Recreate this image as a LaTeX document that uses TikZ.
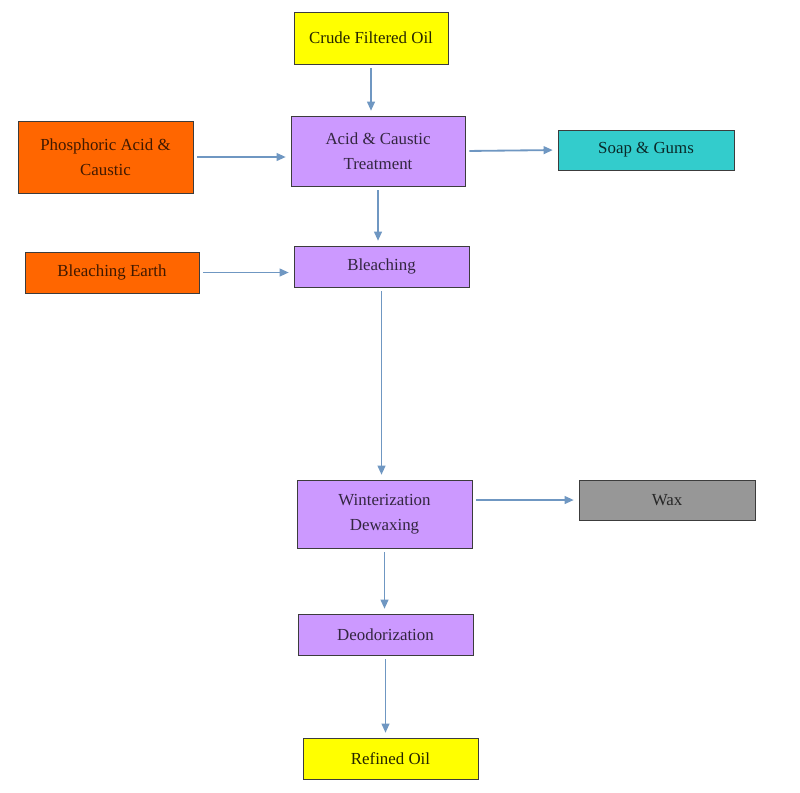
\documentclass[tikz,border=0pt]{standalone}
\usepackage{fontspec}
\setmainfont{Liberation Serif}
\usetikzlibrary{arrows.meta}

\definecolor{oilyellow}{HTML}{FFFF00}
\definecolor{stagepurple}{HTML}{CC99FF}
\definecolor{feedorange}{HTML}{FF6600}
\definecolor{soapteal}{HTML}{33CCCC}
\definecolor{waxgray}{HTML}{979797}
\definecolor{flowblue}{HTML}{6F97C2}
\definecolor{edgegray}{HTML}{3C3C3C}

\begin{document}
\begin{tikzpicture}[x=0.025cm, y=-0.025cm,
    box/.style={draw=edgegray, line width=0.6pt, inner sep=0pt, align=center,
        font=\fontsize{12}{17.5}\selectfont},
    oil/.style={box, fill=oilyellow, text=oilyellow!15!black},
    stage/.style={box, fill=stagepurple, text=stagepurple!25!black},
    feed/.style={box, fill=feedorange, text=feedorange!25!black},
    flow/.style={draw=flowblue, line width=1.3pt, shorten <=0.1cm, shorten >=0.12cm,
        -{Triangle[length=6.5pt, width=5.5pt]}}]
        \useasboundingbox (0,0) rectangle (800,792);

        % boxes
        \node[oil, minimum width=3.85cm, minimum height=1.3cm] (crude) at (371,38) {Crude Filtered Oil};
        \node[stage, minimum width=4.35cm, minimum height=1.75cm] (acid) at (378,151) {Acid \& Caustic\\Treatment};
        \node[feed, minimum width=4.375cm, minimum height=1.8cm] (phos) at (105.5,157) {Phosphoric Acid \&\\Caustic};
        \node[box, fill=soapteal, text=soapteal!20!black, minimum width=4.4cm, minimum height=1cm] (soap) at (646,150) {Soap \& Gums};
        \node[feed, minimum width=4.35cm, minimum height=1.025cm] (earth) at (112,272.5) {Bleaching Earth};
        \node[stage, minimum width=4.375cm, minimum height=1.025cm] (bleach) at (381.5,266.5) {Bleaching};
        \node[stage, minimum width=4.375cm, minimum height=1.7cm] (winter) at (384.5,514) {Winterization\\Dewaxing};
        \node[box, fill=waxgray, text=black!85, minimum width=4.4cm, minimum height=1cm] (wax) at (667,500) {Wax};
        \node[stage, minimum width=4.375cm, minimum height=1.025cm] (deo) at (385.5,634.5) {Deodorization};
        \node[oil, minimum width=4.375cm, minimum height=1.025cm] (refined) at (390.5,758.5) {Refined Oil};

        % arrows
        \draw[flow] (crude.south) -- (crude.south |- acid.north);
        \draw[flow] (phos.east) -- (phos.east -| acid.west);
        \draw[flow] (acid.east) -- (soap.west);
        \draw[flow] (acid.south) -- (acid.south |- bleach.north);
        \draw[flow] (earth.east) -- (earth.east -| bleach.west);
        \draw[flow] (bleach.south) -- (bleach.south |- winter.north);
        \draw[flow] (wax.west -| winter.east) -- (wax.west);
        \draw[flow] (winter.south) -- (winter.south |- deo.north);
        \draw[flow] (deo.south) -- (deo.south |- refined.north);
    \end{tikzpicture}
\end{document}
